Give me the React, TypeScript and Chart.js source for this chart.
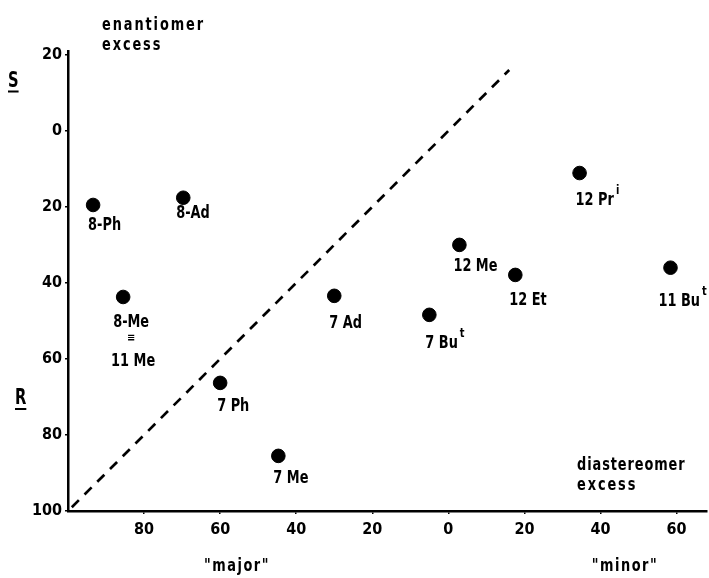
import React, { useEffect, useRef } from 'react';
import { Chart, registerables } from 'chart.js';

Chart.register(...registerables);

// ---- data ----
const compoundNames = ['8-Ph', '8-Ad', '8-Me\n≡\n11 Me', '7 Ph', '7 Me', '7 Ad', '7 Bu', '12 Me', '12 Et', '12 Pr', '11 Bu'];
const compoundSup = ['', '', '', '', '', '', 't', '', '', 'i', 't'];
// negative = "major", positive = "minor" diastereomer
const diastereomerX = [-93.4, -69.7, -85.5, -60, -44.7, -30, -5, 2.9, 17.6, 34.5, 58.4];
// enantiomer excess: positive = R, negative = S
const enantiomerY = [19.5, 17.6, 43.7, 66.3, 85.5, 43.4, 48.4, 30, 37.9, 11.1, 36];
const diagonalX = [-99, 16];
const diagonalY = [99, -16];
const xTickValues = [-80, -60, -40, -20, 0, 20, 40, 60];
const yTickValues = [-20, 0, 20, 40, 60, 80, 100];

// label nudges (pixels) relative to each dot
const labelDx = [-5, -7, -10, -3, -5, -5, -4, -6, -6, -4, -12];
const labelDy = [12, 7, 17, 15, 14, 19, 20, 13, 17, 19, 25];

const FONT = '"DejaVu Sans", sans-serif';

function drawText(
  ctx: CanvasRenderingContext2D,
  text: string,
  x: number,
  y: number,
  size: number,
  align: CanvasTextAlign = 'left',
  sx = 0.76,
  spacing = 0
): number {
  ctx.save();
  ctx.translate(x, y);
  ctx.scale(sx, 1);
  ctx.font = `bold ${size}px ${FONT}`;
  ctx.textAlign = align;
  ctx.textBaseline = 'alphabetic';
  (ctx as any).letterSpacing = spacing + 'px';
  ctx.fillStyle = '#000';
  ctx.fillText(text, 0, 0);
  const w = ctx.measureText(text).width * sx;
  ctx.restore();
  return w;
}

const annotationPlugin = {
  id: 'annotations',
  beforeDraw(chart: any) {
    const ctx = chart.ctx;
    ctx.save();
    ctx.fillStyle = '#fff';
    ctx.fillRect(0, 0, chart.width, chart.height);
    ctx.restore();
  },
  afterDraw(chart: any) {
    const ctx: CanvasRenderingContext2D = chart.ctx;
    const xs = chart.scales.x;
    const ys = chart.scales.y;
    // point labels
    compoundNames.forEach((name, i) => {
      const px = xs.getPixelForValue(diastereomerX[i]);
      const py = ys.getPixelForValue(enantiomerY[i]);
      const left = px + labelDx[i];
      const base = py + labelDy[i] + 13;
      const lines = name.split('\n');
      const w0 = drawText(ctx, lines[0], left, base, 17);
      if (compoundSup[i]) {
        drawText(ctx, compoundSup[i], left + w0 + 2, base - 11, 13);
      }
      const center = left + w0 / 2;
      if (lines.length > 1) {
        drawText(ctx, lines[1], center, base + 14, 11, 'center', 0.9);
        drawText(ctx, lines[2], center + 2, base + 39, 17, 'center');
      }
    });
    // corner texts
    drawText(ctx, 'enantiomer', 102, 30, 17, 'left', 0.76, 2.5);
    drawText(ctx, 'excess', 102, 50, 17, 'left', 0.76, 2.5);
    drawText(ctx, 'diastereomer', 577, 470, 17, 'left', 0.76, 1.2);
    drawText(ctx, 'excess', 577, 490, 17, 'left', 0.76, 2.5);
    drawText(ctx, '"major"', 237, 571, 17, 'center', 0.76, 2);
    drawText(ctx, '"minor"', 625, 571, 17, 'center', 0.76, 2);
    // S and R axis markers (underlined)
    const ws = drawText(ctx, 'S', 8, 87, 21, 'left', 0.7);
    const wr = drawText(ctx, 'R', 15, 404, 21, 'left', 0.7);
    ctx.save();
    ctx.strokeStyle = '#000';
    ctx.lineWidth = 2;
    ctx.beginPath();
    ctx.moveTo(8, 91.5);
    ctx.lineTo(8 + ws, 91.5);
    ctx.moveTo(15, 409);
    ctx.lineTo(15 + wr, 409);
    ctx.stroke();
    ctx.restore();
  },
};

export default function App() {
  const ref = useRef<HTMLCanvasElement>(null);
  useEffect(() => {
    if (!ref.current) return;
    const tickFont = { family: '"DejaVu Sans Condensed", sans-serif', size: 16, weight: 'bold' as const };
    const chart = new Chart(ref.current, {
      type: 'scatter',
      data: {
        datasets: [
          {
            label: 'compounds',
            data: diastereomerX.map((x, i) => ({ x, y: enantiomerY[i] })),
            backgroundColor: '#000',
            borderColor: '#000',
            pointRadius: 6.8,
            pointHoverRadius: 6.8,
          },
          {
            label: 'diagonal',
            data: diagonalX.map((x, i) => ({ x, y: diagonalY[i] })),
            showLine: true,
            borderColor: '#000',
            borderWidth: 2.7,
            borderDash: [10, 8],
            pointRadius: 0,
            fill: false,
          } as any,
        ],
      },
      options: {
        animation: false,
        responsive: false,
        events: [],
        layout: { autoPadding: false, padding: { top: 51, right: 2, left: 0, bottom: 0 } },
        plugins: { legend: { display: false }, tooltip: { enabled: false } },
        scales: {
          x: {
            type: 'linear',
            min: -100,
            max: 68,
            afterBuildTicks: (s: any) => {
              s.ticks = xTickValues.map((v) => ({ value: v }));
            },
            afterFit: (s: any) => {
              s.height = 67;
              s.paddingRight = 0;
            },
            border: { color: '#000', width: 2.5 },
            grid: { drawOnChartArea: false, drawTicks: true, tickLength: 3, color: '#000', lineWidth: 1.5 },
            ticks: {
              color: '#000',
              font: tickFont,
              padding: 6,
              maxRotation: 0,
              autoSkip: false,
              callback: (v: any) => String(Math.abs(Number(v))),
            },
          },
          y: {
            type: 'linear',
            reverse: true,
            min: -21,
            max: 100,
            afterBuildTicks: (s: any) => {
              s.ticks = yTickValues.map((v) => ({ value: v }));
            },
            afterFit: (s: any) => {
              s.width = 68;
            },
            border: { color: '#000', width: 2.5 },
            grid: { drawOnChartArea: false, drawTicks: true, tickLength: 3, color: '#000', lineWidth: 1.5 },
            ticks: {
              color: '#000',
              font: tickFont,
              padding: 3,
              autoSkip: false,
              callback: (v: any) => String(Math.abs(Number(v))),
            },
          },
        },
      },
      plugins: [annotationPlugin],
    });
    return () => chart.destroy();
  }, []);
  return (
    <div style={{ position: 'absolute', left: 0, top: 0, width: 709, height: 578, background: '#fff' }}>
      <canvas ref={ref} width={709} height={578} style={{ display: 'block' }} />
    </div>
  );
}
